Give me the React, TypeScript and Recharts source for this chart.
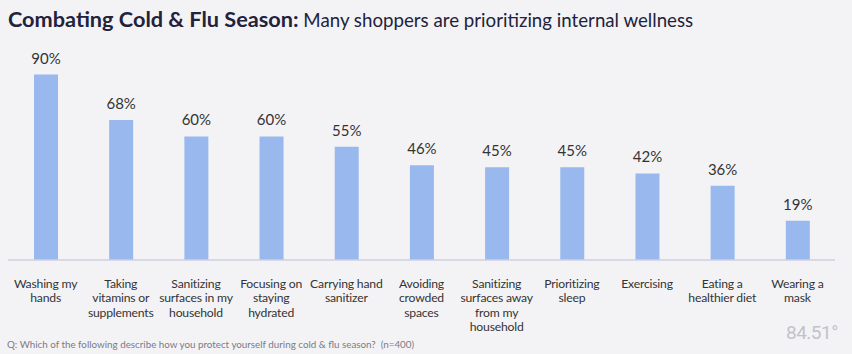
import { BarChart, Bar, XAxis, YAxis, LabelList, ReferenceLine } from 'recharts';

const categories = [
    "Washing my\nhands",
    "Taking\nvitamins or\nsupplements",
    "Sanitizing\nsurfaces in my\nhousehold",
    "Focusing on\nstaying\nhydrated",
    "Carrying hand\nsanitizer",
    "Avoiding\ncrowded\nspaces",
    "Sanitizing\nsurfaces away\nfrom my\nhousehold",
    "Prioritizing\nsleep",
    "Exercising",
    "Eating a\nhealthier diet",
    "Wearing a\nmask",
];
const shares = [90, 68, 60, 60, 55, 46, 45, 45, 42, 36, 19];

const data = categories.map((name, i) => ({ name, value: shares[i] }));

const labelFont = "Lato, 'Open Sans', sans-serif";

function WrappedTick({ x, y, payload }: any) {
    const lines = String(payload.value).split("\n");
    return (
        <text x={x} y={y + 20} textAnchor="middle" fill="#333" fontSize={12.2} letterSpacing={-0.2} fontFamily={labelFont}>
            {lines.map((l, i) => (
                <tspan key={i} x={x} dy={i === 0 ? 0 : 14.4}>{l}</tspan>
            ))}
        </text>
    );
}

export default function App() {
    return (
        <div style={{ position: 'absolute', left: 0, top: 0, width: 852, height: 354, background: '#f3f3f6', overflow: 'hidden' }}>
            <div style={{ position: 'absolute', left: 8, top: 6, whiteSpace: 'nowrap', color: '#22223b', fontFamily: "Lato, sans-serif" }}>
                <span style={{ fontSize: 21.7, fontWeight: 700 }}>Combating Cold &amp; Flu Season:</span>
                <span style={{ fontSize: 18.7 }}> Many shoppers are prioritizing internal wellness</span>
            </div>
            <BarChart width={852} height={354} data={data} margin={{ top: 54, right: 17, bottom: 0, left: 8 }} barSize={24}>
                <YAxis hide domain={[0, 100]} />
                <XAxis dataKey="name" interval={0} height={94} tickLine={false} axisLine={false} tick={<WrappedTick />} />
                <ReferenceLine y={0} stroke="#cfcfe2" strokeWidth={1.5} />
                <Bar dataKey="value" fill="#98b8ee" isAnimationActive={false}>
                    <LabelList dataKey="value" position="top" offset={11} formatter={(v: any) => `${v}%`}
                        fill="#333" fontSize={15} fontFamily={labelFont} />
                </Bar>
            </BarChart>
            <div style={{ position: 'absolute', left: 7, top: 338, fontSize: 9.8, color: '#7a7a86', fontFamily: "Lato, sans-serif", whiteSpace: 'nowrap' }}>
                Q: Which of the following describe how you protect yourself during cold &amp; flu season?&nbsp; (n=400)
            </div>
            <div style={{ position: 'absolute', left: 786, top: 321, fontSize: 19, color: '#c2c2ca', fontFamily: "Roboto, sans-serif", letterSpacing: -0.5, whiteSpace: 'nowrap' }}>
                84.51°
            </div>
        </div>
    );
}
